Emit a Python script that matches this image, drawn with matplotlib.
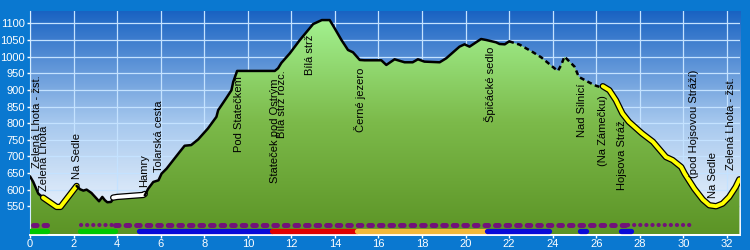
import numpy as np
import matplotlib
matplotlib.use('Agg')
import matplotlib.pyplot as plt
from matplotlib.patches import Polygon
from matplotlib.colors import LinearSegmentedColormap

plt.rcParams['font.family'] = ['Liberation Sans', 'DejaVu Sans']
plt.rcParams['lines.scale_dashes'] = False

# elevation profile (km, m)
km = [0, 0.15, 0.38, 0.6, 1.22, 1.4, 2.14, 2.3, 2.45, 2.6, 2.82, 3.17, 3.32, 3.44,
      3.55, 3.72, 3.82, 4.0, 5.2, 5.27, 5.43, 5.66, 5.9, 6.04, 6.27, 6.58, 6.88,
      7.1, 7.4, 7.72, 8.17, 8.56, 8.64, 9.0, 9.25, 9.33, 9.51, 11.24, 11.39, 11.54,
      11.93, 12.39, 13.0, 13.4, 13.76, 13.99, 14.3, 14.6, 14.83, 15.14, 15.36,
      16.13, 16.36, 16.74, 17.2, 17.57, 17.81, 18.11, 18.81, 19.11, 19.72, 19.95,
      20.18, 20.71, 20.95, 21.4, 21.56, 21.8, 22.0, 22.48, 23.1, 23.47, 24.08,
      24.24, 24.39, 24.54, 24.77, 25.0, 25.2, 25.54, 25.92, 26.15, 26.3, 26.6,
      26.9, 27.2, 27.5, 28.1, 28.6, 29.2, 29.5, 29.9, 30.06, 30.5, 30.89, 31.19,
      31.5, 31.8, 32.1, 32.4, 32.57]
elev = [640, 623, 588, 576, 548, 548, 611, 601, 597, 600, 590, 565, 578, 568,
        562, 563, 572, 574, 580, 583, 603, 623, 628, 648, 663, 689, 714,
        732, 734, 751, 784, 819, 839, 874, 899, 924, 957, 957, 965, 981,
        1010, 1050, 1098, 1110, 1110, 1085, 1050, 1020, 1013, 990, 989,
        989, 975, 992, 983, 983, 992, 985, 983, 995, 1030, 1037,
        1030, 1053, 1050, 1043, 1038, 1037, 1046, 1036, 1013, 998, 965,
        957, 975, 1000, 985, 970, 939, 927, 914, 909, 911, 899,
        869, 829, 804, 769, 744, 698, 689, 668, 648, 603, 570, 553,
        550, 558, 578, 608, 631]

# line styling ranges along the route (km from, km to, style)
segments = [(0, 0.6, 'black'), (0.6, 2.14, 'yellow'), (2.14, 3.82, 'black'),
            (3.82, 5.27, 'white'), (5.27, 22.0, 'black'), (22.0, 26.3, 'dashed'),
            (26.3, 32.57, 'yellow')]

# waypoints
stop_names = ['Zelená Lhota - žst.', 'Zelená Lhota', 'Na Sedle', 'Hamry', 'Tolarská cesta',
              'Pod Statečkem', 'Stateček pod Ostrým', 'Bílá strž rozc.', 'Bílá strž',
              'Černé jezero', 'Špičácké sedlo', 'Nad Silnicí', '(Na Zámečku)',
              'Hojsova Stráž', '(pod Hojsovou Stráží)', 'Na Sedle', 'Zelená Lhota - žst.']
stop_km = [0.3, 0.64, 2.17, 5.23, 5.93, 9.6, 11.24, 11.57, 12.84, 15.14, 21.1,
           25.35, 26.3, 27.2, 30.5, 31.35, 32.2]
label_base = [664, 596, 631, 607, 653, 713, 619, 755, 944, 774, 804,
              759, 670, 598, 634, 574, 658]

# marking strips at the bottom
marks = [(0, 0.8, '#00c800'), (2.3, 3.9, '#00c800'), (5.0, 11.1, '#0a0ad8'),
         (11.1, 15.0, '#e00000'), (15.0, 21.0, '#f2b83a'), (21.0, 23.85, '#0a0ad8'),
         (25.25, 25.55, '#0a0ad8'), (27.15, 27.6, '#0a0ad8')]
dots = [(0, 0.8, 'big'), (2.3, 3.8, 'small'), (3.8, 27.4, 'big'), (27.4, 30.3, 'small')]

x = np.array(km)
y = np.array(elev)
ybot, ytop = 465, 1138
xmax = 32.6

fig = plt.figure(figsize=(7.5, 2.5), dpi=100)
fig.patch.set_facecolor('#0a78d0')
ax = fig.add_axes([0.04, 0.062, 0.9467, 0.895])
ax.set_xlim(0, xmax)
ax.set_ylim(ybot, ytop)

sky = LinearSegmentedColormap.from_list('sky', ['#f8fbff', '#a6c8ee', '#1862c2'])
grad = np.linspace(0, 1, 256).reshape(-1, 1)
ax.imshow(grad, cmap=sky, origin='lower', aspect='auto',
          extent=[0, xmax, ybot, ytop], zorder=0)

ax.set_axisbelow(True)
ax.set_xticks(np.arange(0, 33, 2))
ax.set_yticks(np.arange(550, 1101, 50))
ax.grid(True, color='#c4e2ff', lw=0.9)

grass = LinearSegmentedColormap.from_list('grass', ['#5c9426', '#7cba4a', '#a6f696'])
poly = Polygon(np.column_stack([np.r_[x[0], x, x[-1]], np.r_[ybot, y, ybot]]),
               closed=True, facecolor='none', edgecolor='none')
ax.add_patch(poly)
im = ax.imshow(grad, cmap=grass, origin='lower', aspect='auto',
               extent=[0, xmax, ybot, ytop], zorder=1)
im.set_clip_path(poly)

for a, b, style in segments:
    m = (x >= a) & (x <= b)
    if style == 'black':
        ax.plot(x[m], y[m], color='black', lw=1.8, zorder=3, solid_capstyle='round')
    elif style == 'dashed':
        ax.plot(x[m], y[m], color='black', lw=1.8, zorder=3, dashes=(3.5, 2.5))
    elif style == 'yellow':
        ax.plot(x[m], y[m], color='black', lw=4.6, zorder=3, solid_capstyle='round')
        ax.plot(x[m], y[m], color='#ffff00', lw=2.8, zorder=3, solid_capstyle='round')
    else:
        ax.plot(x[m], y[m] + 4, color='black', lw=4.6, zorder=3, solid_capstyle='round')
        ax.plot(x[m], y[m] + 4, color='white', lw=2.8, zorder=3, solid_capstyle='round')

for a, b, c in marks:
    ax.plot([a, b], [476, 476], color=c, lw=3.8, solid_capstyle='round', zorder=4)

for a, b, kind in dots:
    if kind == 'big':
        ax.plot([a + 0.12, b], [493, 493], color='#72127a', lw=3.6, zorder=4,
                dash_capstyle='round', dashes=(2.6, 5.0))
    else:
        ax.plot([a + 0.05, b], [493, 493], color='#72127a', lw=3.0, zorder=4,
                dash_capstyle='round', dashes=(0.1, 4.3))

for name, k, yb in zip(stop_names, stop_km, label_base):
    ax.text(k, yb, name, rotation=90, ha='center', va='bottom', fontsize=8,
            color='black', zorder=5)

for s in ['top', 'right']:
    ax.spines[s].set_visible(False)
ax.spines['left'].set_color('#d6ecff')
ax.spines['bottom'].set_color('white')
ax.spines['bottom'].set_linewidth(1.4)
ax.tick_params(colors='white', labelsize=8, length=2.5, width=1, pad=1)

fig.savefig('out.png', dpi=100, facecolor=fig.get_facecolor())
